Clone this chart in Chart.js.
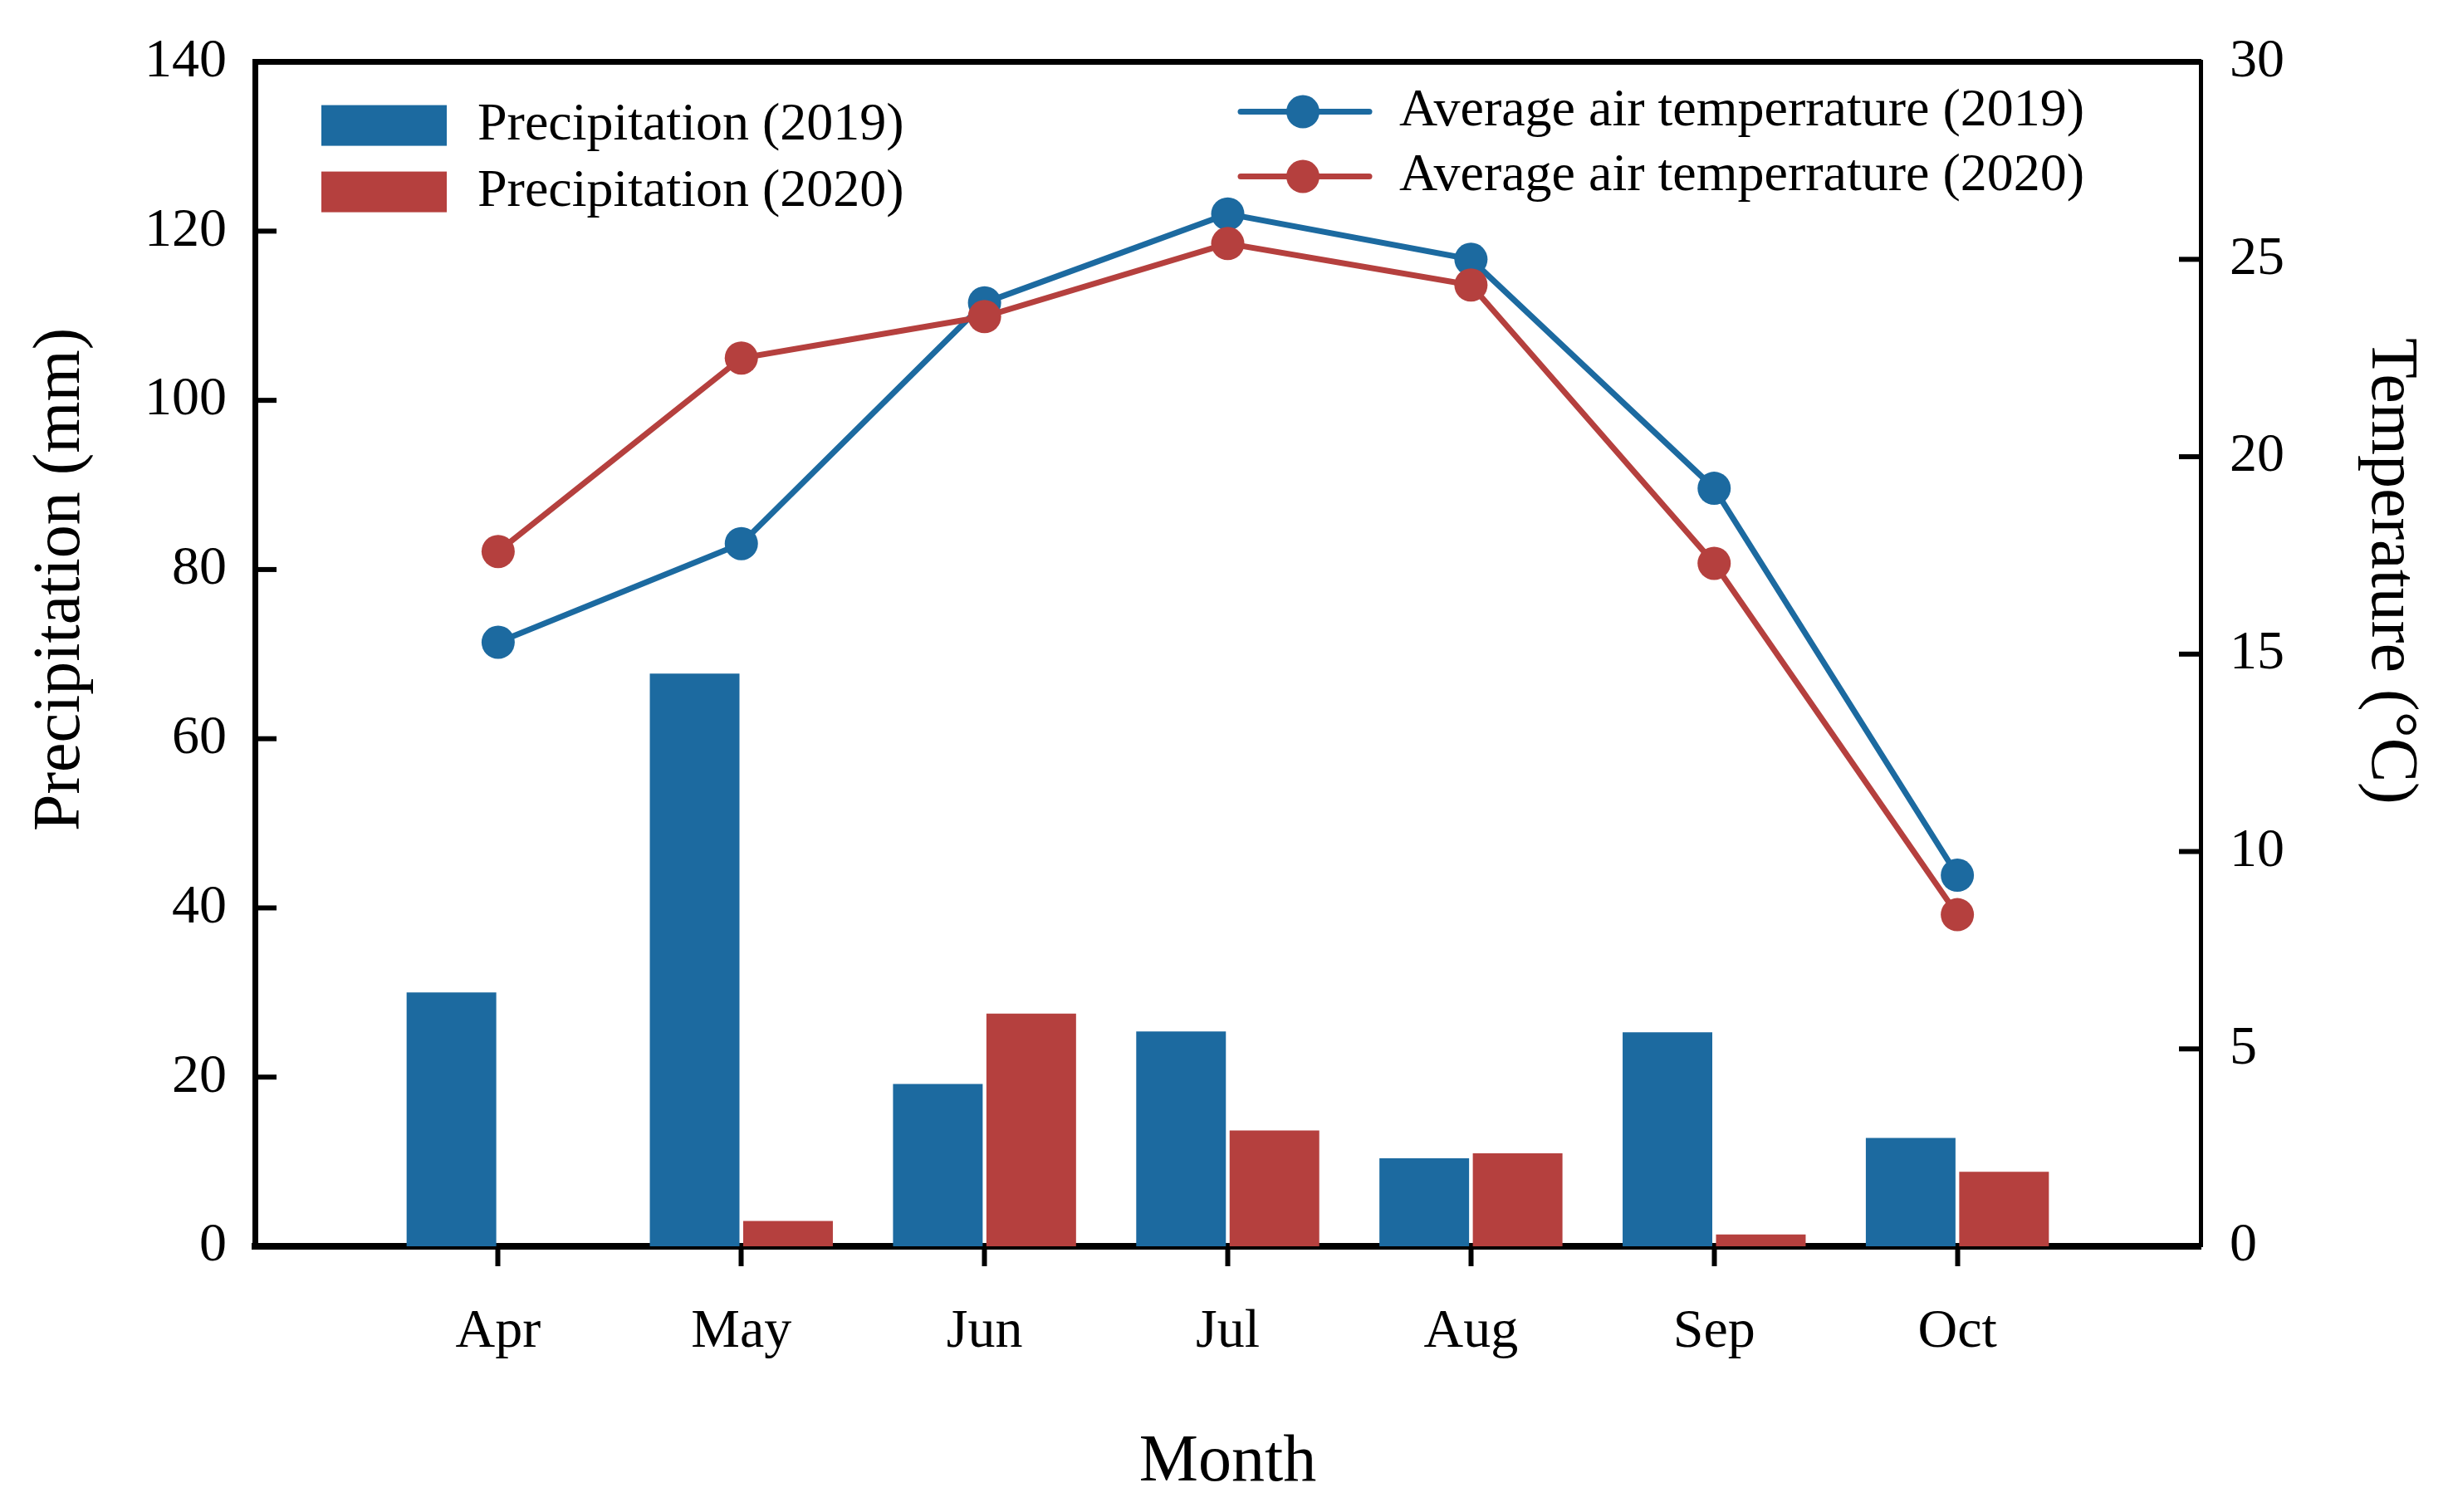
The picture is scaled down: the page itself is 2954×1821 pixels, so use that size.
<!DOCTYPE html>
<html>
<head>
<meta charset="utf-8">
<title>Precipitation and air temperature</title>
<script src="https://cdn.jsdelivr.net/npm/chart.js@4.4.1/dist/chart.umd.min.js"></script>
<style>
    html, body { margin: 0; padding: 0; background: #fff; }
    #wrap { width: 2954px; height: 1821px; position: relative; }
</style>
</head>
<body>
<div id="wrap"><canvas id="climateChart"></canvas></div>
<script>
// values
const months = ['Apr', 'May', 'Jun', 'Jul', 'Aug', 'Sep', 'Oct'];
const precip2019 = [30.0, 67.7, 19.2, 25.4, 10.4, 25.3, 12.8];
const precip2020 = [0, 3.0, 27.5, 13.7, 11.0, 1.4, 8.8];
const temp2019 = [15.3, 17.8, 23.9, 26.15, 25.0, 19.2, 9.4];
const temp2020 = [17.6, 22.5, 23.55, 25.4, 24.35, 17.3, 8.4];
const precipTicks = [0, 20, 40, 60, 80, 100, 120, 140];
const tempTicks = [0, 5, 10, 15, 20, 25, 30];

const BLUE = '#1c6aa0';
const RED = '#b5403e';
const FONT = "'Liberation Serif', 'Times New Roman', serif";
const NBSP = '\u00A0';

// months sit at 1..n on a linear axis that runs from 0 to n + 1
const toPoints = values => values.map((v, i) => ({ x: i + 1, y: v }));

// tick marks pointing into the plot on both value axes
const inwardTicks = {
    id: 'inwardTicks',
    afterDatasetsDraw(chart) {
        const { ctx, chartArea } = chart;
        ctx.save();
        ctx.strokeStyle = '#000';
        ctx.lineWidth = 6;
        [['y', chartArea.left, 1], ['y1', chartArea.right, -1]].forEach(([id, edge, dir]) => {
            const scale = chart.scales[id];
            scale.ticks.forEach(t => {
                const py = scale.getPixelForValue(t.value);
                ctx.beginPath();
                ctx.moveTo(edge, py);
                ctx.lineTo(edge + dir * 26, py);
                ctx.stroke();
            });
        });
        ctx.restore();
    }
};

// legend in two blocks: bars top left, lines top right
const splitLegend = {
    id: 'splitLegend',
    afterDraw(chart) {
        const { ctx, chartArea } = chart;
        const sets = chart.data.datasets;
        ctx.save();
        ctx.font = '64px ' + FONT;
        ctx.textBaseline = 'middle';
        ctx.textAlign = 'left';

        sets.filter(d => d.type === 'bar').forEach((d, i) => {
            const y = chartArea.top + 77 + i * 80;
            ctx.fillStyle = d.backgroundColor;
            ctx.fillRect(chartArea.left + 80, y - 25, 151, 49);
            ctx.fillStyle = '#000';
            ctx.fillText(d.label, chartArea.left + 268, y);
        });

        sets.filter(d => d.type === 'line').forEach((d, i) => {
            const y = chartArea.top + 60 + i * 78;
            ctx.strokeStyle = d.borderColor;
            ctx.lineWidth = 7;
            ctx.lineCap = 'round';
            ctx.beginPath();
            ctx.moveTo(chartArea.left + 1187, y);
            ctx.lineTo(chartArea.left + 1342, y);
            ctx.stroke();
            ctx.fillStyle = d.borderColor;
            ctx.beginPath();
            ctx.arc(chartArea.left + 1262, y, 20, 0, Math.PI * 2);
            ctx.fill();
            ctx.fillStyle = '#000';
            ctx.fillText(d.label, chartArea.left + 1378, y);
        });
        ctx.restore();
    }
};

function initClimateChart() {
    const ctx = document.getElementById('climateChart');
    if (!ctx) return;

    Chart.defaults.font.family = FONT;
    Chart.defaults.color = '#000';

    new Chart(ctx, {
        type: 'bar',
        data: {
            datasets: [
                {
                    type: 'bar',
                    label: 'Precipitation (2019)',
                    data: toPoints(precip2019),
                    backgroundColor: BLUE,
                    yAxisID: 'y',
                    order: 2
                },
                {
                    type: 'bar',
                    label: 'Precipitation (2020)',
                    data: toPoints(precip2020),
                    backgroundColor: RED,
                    yAxisID: 'y',
                    order: 3
                },
                {
                    type: 'line',
                    label: 'Average air temperrature (2019)',
                    data: toPoints(temp2019),
                    borderColor: BLUE,
                    backgroundColor: BLUE,
                    pointBackgroundColor: BLUE,
                    borderWidth: 7,
                    pointRadius: 20,
                    pointBorderWidth: 0,
                    tension: 0,
                    yAxisID: 'y1',
                    order: 1
                },
                {
                    type: 'line',
                    label: 'Average air temperrature (2020)',
                    data: toPoints(temp2020),
                    borderColor: RED,
                    backgroundColor: RED,
                    pointBackgroundColor: RED,
                    borderWidth: 7,
                    pointRadius: 20,
                    pointBorderWidth: 0,
                    tension: 0,
                    yAxisID: 'y1',
                    order: 0
                }
            ]
        },
        options: {
            responsive: true,
            maintainAspectRatio: false,
            animation: false,
            events: [],
            categoryPercentage: 0.768,
            barPercentage: 0.96,
            layout: { padding: 0 },
            plugins: {
                legend: { display: false },
                tooltip: { enabled: false }
            },
            scales: {
                x: {
                    type: 'linear',
                    position: 'bottom',
                    min: 0,
                    max: months.length + 1,
                    offset: false,
                    z: 1,
                    afterBuildTicks: scale => {
                        scale.ticks = months.map((m, i) => ({ value: i + 1 }));
                    },
                    afterFit: scale => { scale.height = 320; },
                    ticks: {
                        font: { size: 66 },
                        padding: 40,
                        maxRotation: 0,
                        autoSkip: false,
                        callback: value => months[value - 1] || ''
                    },
                    grid: {
                        display: true,
                        offset: false,
                        drawOnChartArea: false,
                        drawTicks: true,
                        tickLength: 24,
                        tickWidth: 6,
                        tickColor: '#000'
                    },
                    border: { display: true, color: '#000', width: 8 },
                    title: {
                        display: true,
                        text: 'Month',
                        font: { size: 80 },
                        padding: { top: 0, bottom: 11 }
                    }
                },
                xTop: {
                    type: 'linear',
                    position: 'top',
                    min: 0,
                    max: months.length + 1,
                    afterFit: scale => { scale.height = 73; },
                    ticks: { display: false },
                    grid: { display: false },
                    border: { display: true, color: '#000', width: 7 }
                },
                y: {
                    type: 'linear',
                    position: 'left',
                    min: precipTicks[0],
                    max: precipTicks[precipTicks.length - 1],
                    afterBuildTicks: scale => {
                        scale.ticks = precipTicks.map(v => ({ value: v }));
                    },
                    afterFit: scale => { scale.width = 307; },
                    ticks: { font: { size: 66 }, padding: 34 },
                    grid: { display: false, drawTicks: false, tickLength: 0 },
                    border: { display: true, color: '#000', width: 7 },
                    title: {
                        display: true,
                        text: NBSP.repeat(9) + 'Precipitation (mm)',
                        font: { size: 80 },
                        padding: { top: 26, bottom: 0 }
                    }
                },
                y1: {
                    type: 'linear',
                    position: 'right',
                    min: tempTicks[0],
                    max: tempTicks[tempTicks.length - 1],
                    afterBuildTicks: scale => {
                        scale.ticks = tempTicks.map(v => ({ value: v }));
                    },
                    afterFit: scale => { scale.width = 304; },
                    ticks: { font: { size: 66 }, padding: 35 },
                    grid: { display: false, drawTicks: false, tickLength: 0 },
                    border: { display: true, color: '#000', width: 5 },
                    title: {
                        display: true,
                        text: 'Temperature (°C)' + NBSP.repeat(10),
                        font: { size: 80 },
                        padding: { top: 28, bottom: 0 }
                    }
                }
            }
        },
        plugins: [inwardTicks, splitLegend]
    });
}

document.addEventListener('DOMContentLoaded', initClimateChart);
</script>
</body>
</html>
